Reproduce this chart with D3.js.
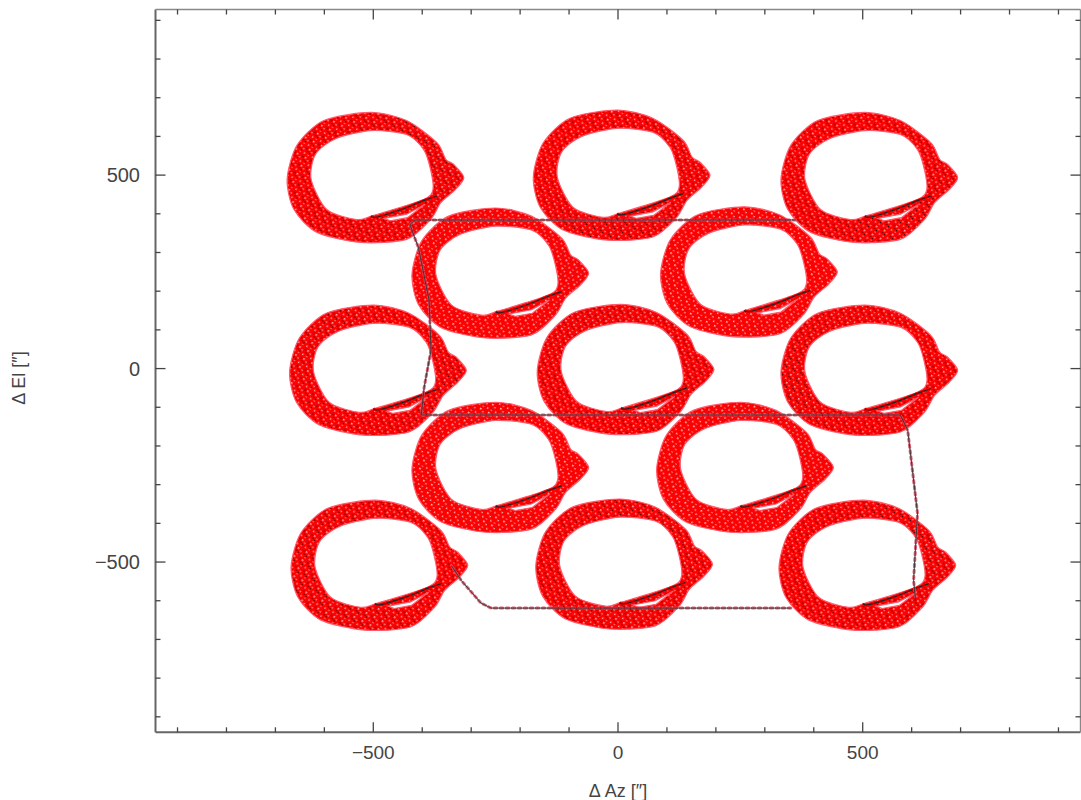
<!DOCTYPE html>
<html>
<head>
<meta charset="utf-8">
<script src="https://cdn.jsdelivr.net/npm/d3@7"></script>
<style>
  html, body { margin: 0; padding: 0; background: #fff; }
  svg { display: block; }
  text { font-family: "Liberation Sans", Arial, sans-serif; }
</style>
</head>
<body>
<svg id="chart" width="1081" height="800"></svg>
<script>
// ---------- data ----------
// centres of the 13 scan rings, Δ Az / Δ El in arcsec
const ringCentersX = [-505, -2, 504, -250, 258, -500, 6, 504, -250, 250, -497, 3, 500];
const ringCentersY = [494, 500, 494, 247, 250, -4, -2, -4, -255, -255, -508, -505, -508];
// row group of each ring (middle rows look lighter)
const ringGroup = ["a", "a", "a", "b", "b", "a", "a", "a", "b", "b", "a", "a", "a"];

// ring outline relative to its centre (arcsec)
const ringOuter = [[0,168],[73,147],[135,90],[153,47],[169,34],[190,0],[173,-31],[143,-65],
                   [122,-109],[73,-160],[-20,-168],[-110,-142],[-157,-83],[-171,-5],[-151,83],[-96,147]];
const ringInner = [[0,121],[73,111],[108,72],[122,21],[127,-31],[108,-57],[6,-98],[-29,-109],
                   [-90,-83],[-122,-5],[-113,60],[-72,100]];
const ringSliver = [[27,-106],[73,-95],[110,-70],[75,-104],[40,-112]];
const ringTail = [[0,-100],[6,-103],[60,-84],[108,-60],[135,-48]];

// slewing tracks between the rings
const scanPathA = [[363,384],[-415,384],[-425,372],[-416,340],[-408,314],[-386,177],[-382,48],
                   [-396,-48],[-402,-120],[577,-120],[592,-160],[612,-374],[604,-547],[608,-598]];
const scanPathB = [[353,-619],[-259,-619],[-280,-606],[-320,-548],[-341,-508]];

// axis ticks
const xMajorTicks = [-500, 0, 500];
const yMajorTicks = [-500, 0, 500];
const minorTicks = [-900,-800,-700,-600,-400,-300,-200,-100,100,200,300,400,600,700,800,900];
const xTitle = "Δ Az  [\u2033]";
const yTitle = "Δ El  [\u2033]";

// ---------- drawing ----------
const svg = d3.select("#chart");
const L = 155.5, R = 1080.5, T = 9.5, B = 732.3;
const x = d3.scaleLinear().domain([-945, 945]).range([L, R]);
const y = d3.scaleLinear().domain([-940, 928]).range([B, T]);

const defs = svg.append("defs");
function speckle(id, pink, dark, darkCount) {
  const p = defs.append("pattern").attr("id", id).attr("patternUnits", "userSpaceOnUse")
    .attr("width", 9).attr("height", 9).attr("patternTransform", "rotate(27)");
  p.append("rect").attr("width", 9).attr("height", 9).attr("fill", "#ff0000");
  [[1,1,1.6],[4.5,3,1.3],[7,6.5,1.4],[2.5,7,1.1]].forEach(([a, b, s]) =>
    p.append("rect").attr("x", a).attr("y", b).attr("width", s).attr("height", s).attr("fill", pink));
  [[3,5],[7.5,1.5],[0.5,4]].slice(0, darkCount).forEach(([a, b]) =>
    p.append("rect").attr("x", a).attr("y", b).attr("width", 1).attr("height", 1).attr("fill", dark));
  p.append("rect").attr("x", 5.5).attr("y", 0.5).attr("width", 0.9).attr("height", 0.9).attr("fill", "#5a3c9c");
}
speckle("speckA", "#ffb4b4", "#1a0000", 3);
speckle("speckB", "#ffc9c9", "#a02848", 1);

const smooth = d3.line().curve(d3.curveCardinalClosed.tension(0.2));
const linear = d3.line().curve(d3.curveLinearClosed);
const open = d3.line().curve(d3.curveCatmullRom);
const poly = d3.line();

const plot = svg.append("g");
ringCentersX.forEach((cx, i) => {
  const cy = ringCentersY[i];
  const sh = arr => arr.map(([dx, dy]) => [x(cx + dx), y(cy + dy)]);
  const d = smooth(sh(ringOuter)) + smooth(sh(ringInner)) + linear(sh(ringSliver));
  plot.append("path").attr("d", d).attr("fill-rule", "evenodd")
    .attr("fill", ringGroup[i] === "a" ? "url(#speckA)" : "url(#speckB)")
    .attr("stroke", "#ff5a6a").attr("stroke-width", 1.2);
  plot.append("path").attr("d", open(sh(ringTail))).attr("fill", "none")
    .attr("stroke", "#ff0000").attr("stroke-width", 3);
  plot.append("path").attr("d", open(sh(ringTail))).attr("fill", "none")
    .attr("stroke", "#222").attr("stroke-width", 1.2);
});

[scanPathA, scanPathB].forEach(pth => {
  const pts = pth.map(([a, b]) => [x(a), y(b)]);
  plot.append("path").attr("d", poly(pts)).attr("fill", "none")
    .attr("stroke", "#d04a60").attr("stroke-width", 3).attr("stroke-dasharray", "2.5 3.5")
    .attr("stroke-linecap", "round").attr("opacity", 0.85);
  plot.append("path").attr("d", poly(pts)).attr("fill", "none")
    .attr("stroke", "#333").attr("stroke-width", 0.9);
});

// frame
const ax = svg.append("g");
ax.append("line").attr("x1", L).attr("x2", L).attr("y1", T).attr("y2", B).attr("stroke", "#666").attr("stroke-width", 2);
ax.append("line").attr("x1", L).attr("x2", R).attr("y1", B).attr("y2", B).attr("stroke", "#666").attr("stroke-width", 2);
ax.append("line").attr("x1", L).attr("x2", R).attr("y1", T).attr("y2", T).attr("stroke", "#888").attr("stroke-width", 1.4);
ax.append("line").attr("x1", R).attr("x2", R).attr("y1", T).attr("y2", B).attr("stroke", "#888").attr("stroke-width", 1.4);

function ticks(vals, len) {
  vals.forEach(v => {
    ax.append("line").attr("x1", x(v)).attr("x2", x(v)).attr("y1", B).attr("y2", B - len).attr("stroke", "#444").attr("stroke-width", 1.3);
    ax.append("line").attr("x1", x(v)).attr("x2", x(v)).attr("y1", T).attr("y2", T + len).attr("stroke", "#444").attr("stroke-width", 1.3);
    ax.append("line").attr("y1", y(v)).attr("y2", y(v)).attr("x1", L).attr("x2", L + len).attr("stroke", "#444").attr("stroke-width", 1.3);
    ax.append("line").attr("y1", y(v)).attr("y2", y(v)).attr("x1", R).attr("x2", R - len).attr("stroke", "#444").attr("stroke-width", 1.3);
  });
}
ticks(minorTicks, 5);
ticks(xMajorTicks, 10);

const fmt = v => (v < 0 ? "\u2212" + Math.abs(v) : String(v));
xMajorTicks.forEach(v => {
  ax.append("text").attr("x", x(v)).attr("y", 759).attr("text-anchor", "middle")
    .attr("font-size", 19).attr("fill", "#444").text(fmt(v));
});
yMajorTicks.forEach(v => {
  ax.append("text").attr("x", 140).attr("y", y(v) + 7).attr("text-anchor", "end")
    .attr("font-size", 20).attr("fill", "#444").text(fmt(v));
});
ax.append("text").attr("x", x(0)).attr("y", 797).attr("text-anchor", "middle")
  .attr("font-size", 18).attr("fill", "#444").text(xTitle);
ax.append("text").attr("transform", "translate(25," + 378 + ") rotate(-90)").attr("text-anchor", "middle")
  .attr("font-size", 18).attr("fill", "#444").text(yTitle);
</script>
</body>
</html>
